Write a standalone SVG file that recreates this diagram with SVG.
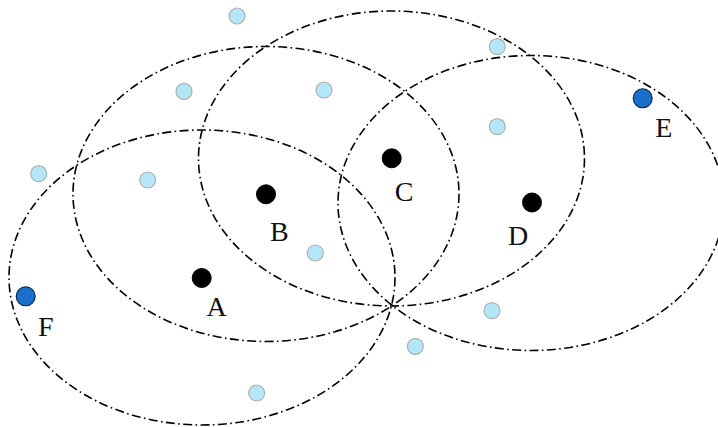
<svg xmlns="http://www.w3.org/2000/svg" width="718" height="427" viewBox="0 0 718 427">
<style>
.ring{fill:none;stroke:#000;stroke-width:1.6;stroke-dasharray:9 3.4 1.6 3.4}
.core{fill:#000;stroke:#000;stroke-width:1}
.pt{fill:#b3e6f6;stroke:#b0b0b0;stroke-width:1.2}
.edge{fill:#1a6fcb;stroke:#0b2440;stroke-width:1.1}
.lbl{font-family:"Liberation Serif","DejaVu Serif",serif;font-size:28px;fill:#111;text-anchor:middle}
</style>
<rect width="718" height="427" fill="#fff"/>
<g id="connectors">
<ellipse class="ring" cx="202" cy="277.5" rx="193" ry="147.5"/>
<ellipse class="ring" cx="266" cy="194" rx="193" ry="147.5"/>
<ellipse class="ring" cx="391.5" cy="158.5" rx="193" ry="147.5"/>
<ellipse class="ring" cx="531" cy="203" rx="193" ry="147.5"/>
</g>
<g id="points">
<circle class="pt" cx="237" cy="16" r="8"/>
<circle class="pt" cx="184" cy="91.3" r="8"/>
<circle class="pt" cx="324" cy="90" r="8"/>
<circle class="pt" cx="38.7" cy="173.7" r="8"/>
<circle class="pt" cx="147.7" cy="180" r="8"/>
<circle class="pt" cx="497.3" cy="46.7" r="8"/>
<circle class="pt" cx="497.3" cy="126.7" r="8"/>
<circle class="pt" cx="315.3" cy="253" r="8"/>
<circle class="pt" cx="256.7" cy="393" r="8"/>
<circle class="pt" cx="492" cy="310.7" r="8"/>
<circle class="pt" cx="415.3" cy="346.3" r="8"/>
</g>
<g id="node-A"><circle class="core" cx="201.7" cy="278" r="9.5"/><text class="lbl" x="216.7" y="316.3">A</text></g>
<g id="node-B"><circle class="core" cx="266" cy="194.3" r="9.5"/><text class="lbl" x="279.3" y="241.3">B</text></g>
<g id="node-C"><circle class="core" cx="391.7" cy="158.3" r="9.5"/><text class="lbl" x="404" y="201">C</text></g>
<g id="node-D"><circle class="core" cx="532" cy="202.5" r="9.5"/><text class="lbl" x="518" y="245.3">D</text></g>
<g id="node-E"><circle class="edge" cx="642.7" cy="98.3" r="9.5"/><text class="lbl" x="663.7" y="137.3">E</text></g>
<g id="node-F"><circle class="edge" cx="25.7" cy="296.3" r="9.5"/><text class="lbl" x="45.7" y="336.3">F</text></g>
</svg>
